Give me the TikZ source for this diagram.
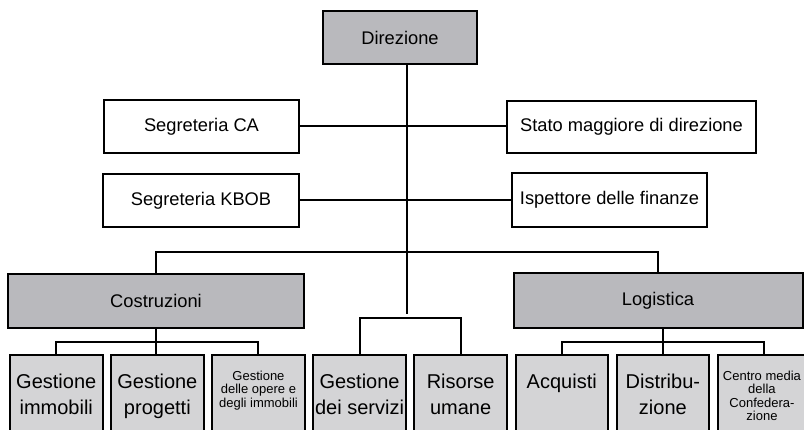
\documentclass[tikz,border=0pt]{standalone}
\usepackage{fontspec}
\setmainfont{Liberation Sans}
\definecolor{darkbox}{RGB}{185,185,189}
\definecolor{lightbox}{RGB}{212,212,214}
\tikzset{
  box/.style={draw=black, line width=2pt, inner sep=0pt, align=center,
    font=\fontsize{18.3}{22}\selectfont},
  whitebox/.style={box, fill=white},
  graybox/.style={box, fill=darkbox},
  unitbox/.style={draw=black, line width=2pt, fill=lightbox, inner sep=0pt,
    minimum width=92.5pt, minimum height=90pt},
  bigtxt/.style={anchor=north, inner sep=0pt, align=center,
    font=\fontsize{20}{25.5}\selectfont},
  smalltxt/.style={anchor=north, inner sep=0pt, align=center,
    font=\fontsize{13}{13.2}\selectfont},
  conn/.style={draw=black, line width=2pt}
}
\begin{document}
\begin{tikzpicture}[x=1pt, y=-1pt]
\useasboundingbox (0,0) rectangle (804,430);
\clip (0,0) rectangle (804,430);
\fill[white] (0,0) rectangle (804,430);

% top level
\node[graybox, minimum width=154pt, minimum height=53pt] (dir) at (400,37.5) {Direzione};
\node[whitebox, minimum width=195pt, minimum height=53pt] (sca) at (201.5,126.5) {Segreteria CA};
\node[whitebox, minimum width=196pt, minimum height=53pt] (kbob) at (201,200.5) {Segreteria KBOB};
\node[whitebox, minimum width=249pt, minimum height=52pt] (stato) at (631.5,127) {Stato maggiore di direzione};
\node[whitebox, minimum width=195pt, minimum height=54pt] (isp) at (609.5,200) {Ispettore delle finanze};
\node[graybox, minimum width=296pt, minimum height=54pt] (cost) at (156,301) {Costruzioni};
\node[graybox, minimum width=289pt, minimum height=55pt] (log) at (658,300.5) {Logistica};

% bottom units
\foreach \i in {1,...,8}{
  \node[unitbox] (b\i) at ({10+101.1*(\i-1)+46.25},400) {};
}
\node[bigtxt] (t1) at ([yshift=-20pt]b1.north) {Gestione\\immobili};
\node[bigtxt] (t2) at ([yshift=-20pt]b2.north) {Gestione\\progetti};
\node[smalltxt] (t3) at ([yshift=-17pt]b3.north) {Gestione\\delle opere e\\degli immobili};
\node[bigtxt] (t4) at ([yshift=-20pt]b4.north) {Gestione\\dei servizi};
\node[bigtxt] (t5) at ([yshift=-20pt]b5.north) {Risorse\\umane};
\node[bigtxt] (t6) at ([yshift=-20pt]b6.north) {Acquisti};
\node[bigtxt] (t7) at ([yshift=-20pt]b7.north) {Distribu-\\zione};
\node[smalltxt] (t8) at ([xshift=-2pt,yshift=-17pt]b8.north) {Centro media\\della\\Confedera-\\zione};

% connectors
\coordinate (trunkend) at (407,314);
\coordinate (bar) at (407,252);
\coordinate (midbar) at (410,318);
\coordinate (cbar) at (156,342);
\coordinate (lbar) at (660,342);

\draw[conn] (dir.south -| trunkend) -- (trunkend);
\draw[conn] (sca.east) -- (sca.east -| stato.west);
\draw[conn] (kbob.east) -- (kbob.east -| isp.west);
\draw[conn] (cost.north) |- (bar) -| (log.north);
\draw[conn] (b4.north) |- (midbar) -| (b5.north);
\draw[conn] (b1.north) |- (cbar) -| (b3.north);
\draw[conn] (cost.south) -- (cost.south |- b2.north);
\draw[conn] (b6.north) |- (lbar) -| (b8.north);
\draw[conn] (b7.north |- log.south) -- (b7.north);
\end{tikzpicture}
\end{document}
